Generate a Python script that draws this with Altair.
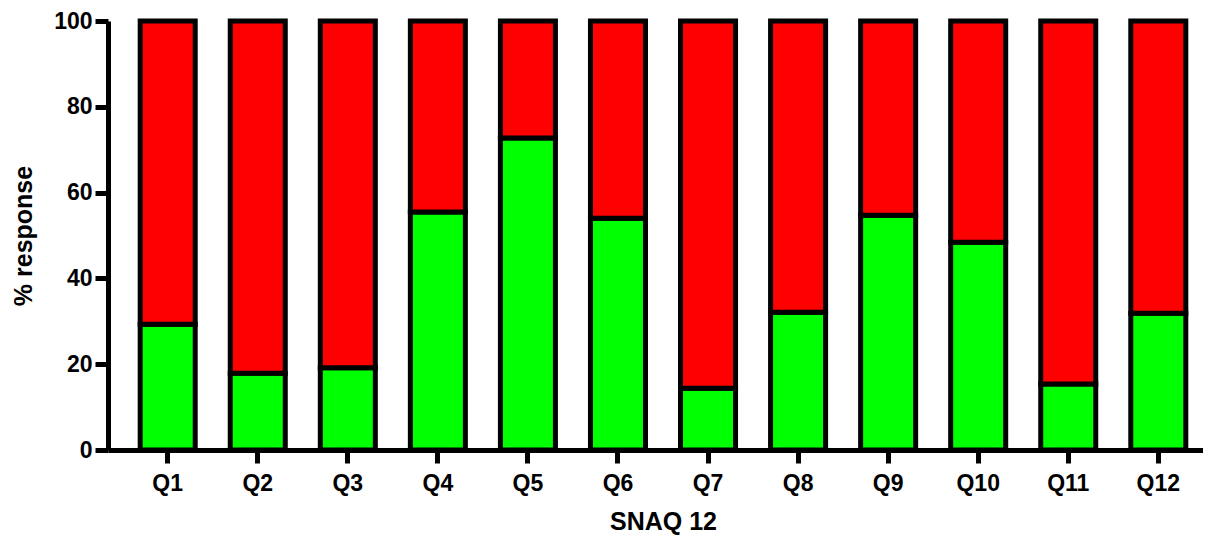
import altair as alt
import pandas as pd

questions = ["Q1", "Q2", "Q3", "Q4", "Q5", "Q6", "Q7", "Q8", "Q9", "Q10", "Q11", "Q12"]
green_vals = [29.3, 17.9, 19.2, 55.5, 72.7, 54.0, 14.4, 32.1, 54.7, 48.4, 15.4, 31.9]
red_vals = [70.7, 82.1, 80.8, 44.5, 27.3, 46.0, 85.6, 67.9, 45.3, 51.6, 84.6, 68.1]
groups = ["Green", "Red"]
colors = ["#00FF00", "#FF0000"]
y_ticks = [0, 20, 40, 60, 80, 100]

rows = []
for q, g, r in zip(questions, green_vals, red_vals):
    rows.append({"q": q, "group": "Green", "value": g, "ord": 0})
    rows.append({"q": q, "group": "Red", "value": r, "ord": 1})
df = pd.DataFrame(rows)

FONT = "Liberation Sans"

chart = alt.Chart(df).mark_bar(stroke="black", strokeWidth=5).encode(
    x=alt.X(
        "q:N",
        sort=questions,
        scale=alt.Scale(range=[0, 1110], paddingInner=0.389, paddingOuter=0.3575),
        axis=alt.Axis(
            title="SNAQ 12",
            labelAngle=0,
            labelPadding=9,
            titleY=79,
            titleBaseline="alphabetic",
            titleFontSize=25,
        ),
    ),
    y=alt.Y(
        "value:Q",
        stack="zero",
        scale=alt.Scale(domain=[0, 100], nice=False),
        axis=alt.Axis(
            title="% response",
            values=y_ticks,
            labelPadding=3,
            titleX=-85,
            titleBaseline="middle",
            titleFontSize=25,
        ),
    ),
    color=alt.Color("group:N", scale=alt.Scale(domain=groups, range=colors), legend=None),
    order=alt.Order("ord:Q"),
).properties(
    width=1095,
    height=429,
    autosize=alt.AutoSizeParams(type="none"),
    padding={"left": 100, "top": 13, "right": 0, "bottom": 86},
).configure_view(stroke=None).configure_axis(
    grid=False,
    domainColor="black",
    domainWidth=5,
    tickColor="black",
    tickWidth=5,
    tickSize=13,
    labelFont=FONT,
    labelFontWeight="bold",
    labelFontSize=23,
    labelColor="black",
    titleFont=FONT,
    titleFontWeight="bold",
    titleColor="black",
)

chart.save("out.html", embed_options={"renderer": "svg", "actions": False})
